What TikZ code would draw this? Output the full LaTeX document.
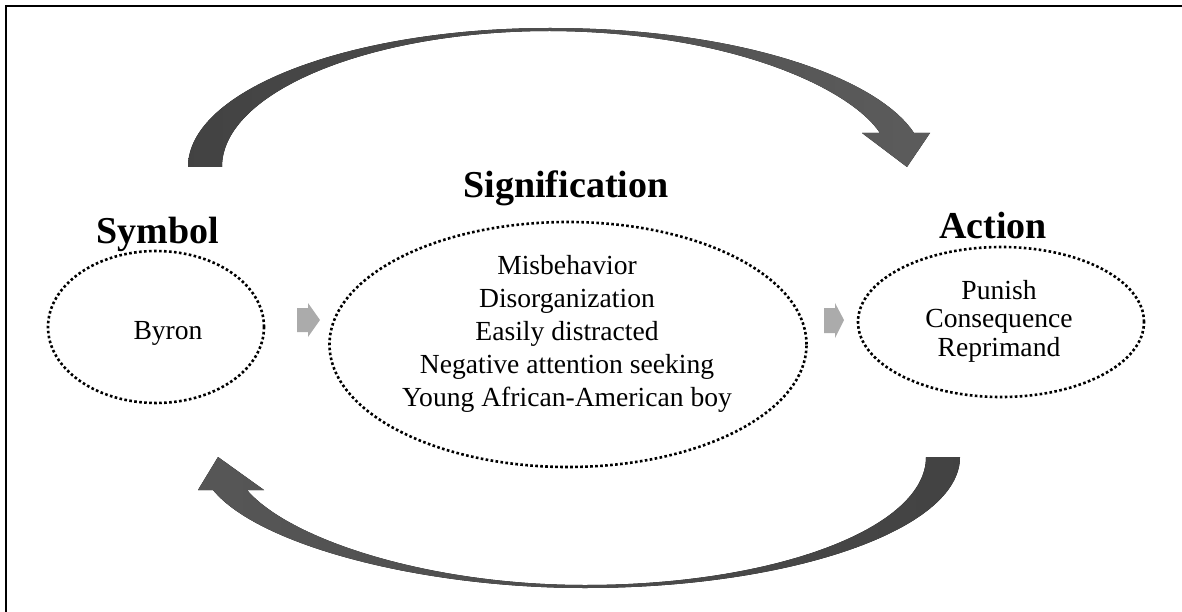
\documentclass[tikz,border=0pt]{standalone}
\usepackage{fontspec}
\setmainfont{Liberation Serif}
\usetikzlibrary{shapes.geometric}
\tikzset{
  ring/.style={ellipse, draw, line width=2.6pt, dash pattern=on 2.6pt off 2.4pt, inner sep=0pt},
  title/.style={font=\fontsize{38}{40}\selectfont\bfseries},
  body/.style={font=\fontsize{27.6}{33}\selectfont, align=center},
  stepper/.style={fill=black!33},
}
\begin{document}
\begin{tikzpicture}[x=1pt,y=-1pt]
  \useasboundingbox (0,0) rectangle (1182,612);
  \draw[line width=2pt] (6,612) -- (6,6) -- (1182,6);
  % the three stages
  \node[ring, minimum width=216pt, minimum height=152pt] (symbol) at (156,327) {};
  \node[ring, minimum width=477pt, minimum height=245pt] (signif) at (568,344.5) {};
  \node[ring, minimum width=286pt, minimum height=150pt] (action) at (1001,322) {};
  \node[title] (symbolTitle) at (158,234) {Symbol};
  \node[title] (signifTitle) at (566,188) {Signification};
  \node[title] (actionTitle) at (993,226) {Action};
  \node[body] (symbolText) at (168,333) {Byron};
  \node[body] (signifText) at (567,334) {Misbehavior\\Disorganization\\Easily distracted\\Negative attention seeking\\Young African-American boy};
  \node[body, font=\fontsize{27.6}{28.5}\selectfont] (actionText) at (999,321) {Punish\\Consequence\\Reprimand};
  % small steps
  \fill[stepper] (297,308) -- (308,308) -- (308,303) -- (320,320) -- (308,337) -- (308,332) -- (297,332) -- cycle;
  \fill[stepper] (824,308) -- (835,308) -- (835,303) -- (844,320) -- (835,338) -- (835,333) -- (824,333) -- cycle;
  % big curved arrows
  \fill[left color=black!74, right color=black!64]
    (188,167) .. controls (188,90) and (350,28) .. (550,28)
    .. controls (740,28) and (878,78) .. (914,133)
    -- (930,133) -- (907,167) -- (862,133) -- (880,133)
    .. controls (850,88) and (730,32) .. (550,31)
    .. controls (370,31) and (222,92) .. (222,167) -- cycle;
  \fill[left color=black!66, right color=black!74]
    (960,457) .. controls (960,530) and (790,588) .. (585,588)
    .. controls (420,588) and (258,545) .. (213,490)
    -- (198,490) -- (218,457) -- (264,490) -- (247,490)
    .. controls (290,540) and (430,585) .. (585,585)
    .. controls (775,585) and (926,528) .. (926,457) -- cycle;
\end{tikzpicture}
\end{document}
